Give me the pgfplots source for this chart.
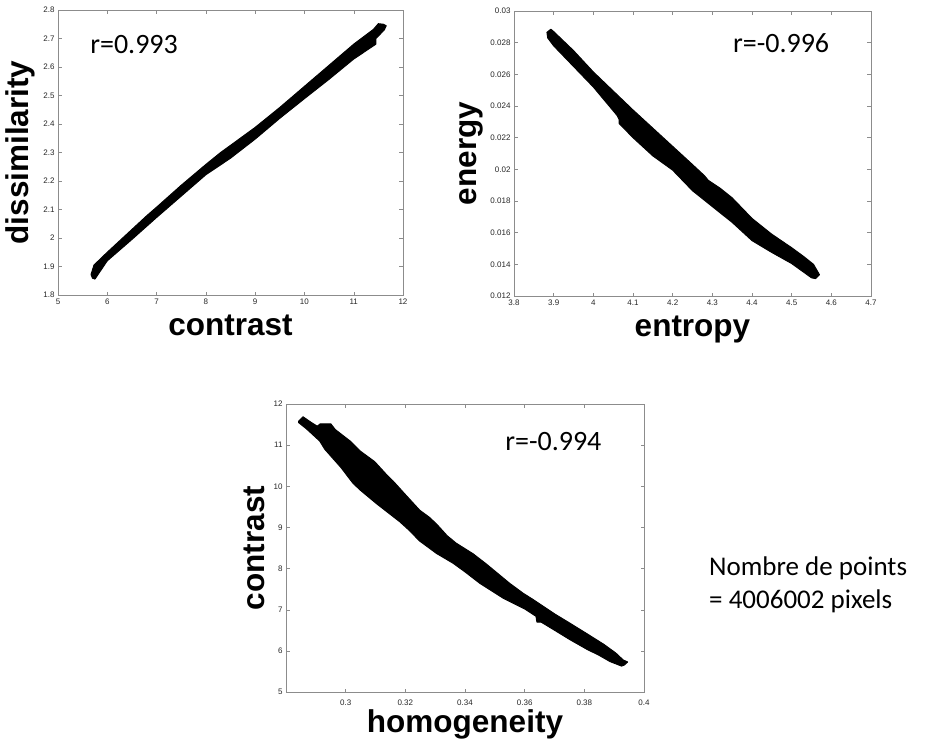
\documentclass[border=0pt]{standalone}
\usepackage{fontspec}
\setmainfont{Liberation Sans}
\newfontfamily\calib{Carlito}
\usepackage{pgfplots}
\pgfplotsset{compat=1.18}

\pgfplotsset{
  matlab/.style={
    scale only axis,
    anchor=south west,
    axis line style={gray!90},
    every tick/.style={gray!90},
    major tick length=3.5pt,
    tick align=inside,
    /pgf/number format/assume math mode=true,
    tick label style={font=\fontsize{8}{9}\selectfont, black!85},
    scaled ticks=false,
    yticklabel style={/pgf/number format/fixed, /pgf/number format/precision=3},
    xticklabel style={/pgf/number format/fixed, /pgf/number format/precision=3},
    xlabel style={font=\fontsize{31.5}{34}\selectfont\bfseries, inner sep=0pt,
      at={([yshift=-40pt]axis description cs:0.5,0)}, anchor=base},
    ylabel style={font=\fontsize{31.5}{34}\selectfont\bfseries, inner sep=0pt,
      anchor=south},
  },
  band/.style={fill=black, draw=black, line width=1pt, line join=round},
}

\begin{document}
\begin{tikzpicture}
\useasboundingbox (0pt,-742pt) rectangle (926pt,0pt);

% contrast vs dissimilarity
\begin{axis}[matlab, at={(58pt,-295pt)}, width=345pt, height=285pt,
  xmin=5, xmax=12, ymin=1.8, ymax=2.8,
  xtick={5,6,7,8,9,10,11,12},
  ytick={1.8,1.9,2,2.1,2.2,2.3,2.4,2.5,2.6,2.7,2.8},
  xlabel={contrast}, ylabel={dissimilarity},
  ylabel style={at={([xshift=-23pt]axis description cs:0,0.5)}}]
\addplot[band] coordinates {
 (5.67,1.872) (5.73,1.905) (6,1.950) (6.5,2.030) (6.8,2.078) (7,2.108)
 (7.5,2.185) (8,2.258) (8.3,2.30) (8.5,2.325) (9,2.388) (9.5,2.458)
 (10,2.532) (10.5,2.606) (11,2.680) (11.4,2.732) (11.5,2.752) (11.6,2.75)
 (11.66,2.745)
 (11.62,2.73) (11.45,2.70) (11.45,2.68) (11,2.628) (10.5,2.557)
 (10,2.489) (9.5,2.42) (9,2.347) (8.5,2.28) (8,2.222) (7.5,2.147)
 (7,2.072) (6.5,1.995) (6,1.920) (5.75,1.856) (5.7,1.859)
} -- cycle;
\node[anchor=base west, inner sep=0pt, font=\calib\fontsize{28}{30}\selectfont]
  at (rel axis cs:0.093,0.849) {r=0.993};
\end{axis}

% entropy vs energy
\begin{axis}[matlab, at={(514pt,-296pt)}, width=357pt, height=285pt,
  xmin=3.8, xmax=4.7, ymin=0.012, ymax=0.03,
  xtick={3.8,3.9,4,4.1,4.2,4.3,4.4,4.5,4.6,4.7},
  ytick={0.012,0.014,0.016,0.018,0.02,0.022,0.024,0.026,0.028,0.03},
  xlabel={entropy}, ylabel={energy},
  ylabel style={at={([xshift=-31pt]axis description cs:0,0.5)}}]
\addplot[band] coordinates {
 (3.883,0.02865) (3.893,0.02885) (3.9,0.0287) (3.95,0.0275) (4.0,0.02615)
 (4.05,0.02495) (4.1,0.02375) (4.15,0.0226) (4.2,0.02145) (4.25,0.0203)
 (4.28,0.0196) (4.29,0.0193) (4.32,0.0188) (4.35,0.0182) (4.4,0.0169)
 (4.45,0.0159) (4.5,0.01505) (4.53,0.0145) (4.555,0.0140) (4.57,0.01335)
 (4.56,0.0131) (4.55,0.01315) (4.5,0.01405) (4.45,0.01475) (4.4,0.0155)
 (4.35,0.01665) (4.3,0.01765) (4.25,0.01865) (4.2,0.01995) (4.15,0.02085)
 (4.1,0.02200) (4.065,0.0229) (4.065,0.02315) (4.06,0.0234) (4.0,0.0252)
 (3.95,0.0265) (3.9,0.0278) (3.885,0.0283)
} -- cycle;
\node[anchor=base west, inner sep=0pt, font=\calib\fontsize{28}{30}\selectfont]
  at (rel axis cs:0.613,0.856) {r=-0.996};
\end{axis}

% homogeneity vs contrast
\begin{axis}[matlab, at={(286pt,-692pt)}, width=358pt, height=288pt,
  xmin=0.28, xmax=0.4, ymin=5, ymax=12,
  xtick={0.3,0.32,0.34,0.36,0.38,0.4},
  ytick={5,6,7,8,9,10,11,12},
  xticklabel style={yshift=-4pt},
  xlabel={homogeneity}, ylabel={contrast},
  ylabel style={at={([xshift=-21pt]axis description cs:0,0.5)}}]
\addplot[band] coordinates {
 (0.2842,11.58) (0.2857,11.69) (0.2885,11.55) (0.2905,11.46) (0.2915,11.52)
 (0.2950,11.52) (0.2965,11.38) (0.3015,11.1) (0.305,10.85) (0.3097,10.6)
 (0.3135,10.3) (0.316,10.12) (0.320,9.8) (0.3248,9.42) (0.328,9.25)
 (0.3305,9.08) (0.334,8.8) (0.337,8.62) (0.3427,8.36) (0.347,8.12)
 (0.351,7.88) (0.355,7.64) (0.3595,7.4) (0.363,7.24) (0.37,6.9)
 (0.375,6.68) (0.3808,6.42) (0.3865,6.16) (0.3905,5.95) (0.393,5.78)
 (0.3945,5.73)
 (0.3935,5.66) (0.3925,5.63) (0.3886,5.74) (0.385,5.89) (0.3808,6.04)
 (0.375,6.28) (0.3696,6.52) (0.3655,6.70) (0.3641,6.70) (0.3638,6.84)
 (0.36,7.02) (0.3528,7.28) (0.345,7.64) (0.340,7.92) (0.336,8.13)
 (0.3304,8.37) (0.3248,8.67) (0.321,8.95) (0.3181,9.14) (0.3103,9.58)
 (0.305,9.9) (0.3025,10.07) (0.3008,10.23) (0.2985,10.45) (0.2963,10.63)
 (0.293,10.9) (0.2913,11.1) (0.2868,11.4) (0.2842,11.55)
} -- cycle;
\node[anchor=base west, inner sep=0pt, font=\calib\fontsize{28}{30}\selectfont]
  at (rel axis cs:0.612,0.840) {r=-0.994};
\end{axis}

\node[anchor=base west, inner sep=0pt, font=\calib\fontsize{27}{33}\selectfont]
  at (709pt,-575pt) {Nombre de points};
\node[anchor=base west, inner sep=0pt, font=\calib\fontsize{27}{33}\selectfont]
  at (709pt,-608pt) {= 4006002 pixels};
\end{tikzpicture}
\end{document}
